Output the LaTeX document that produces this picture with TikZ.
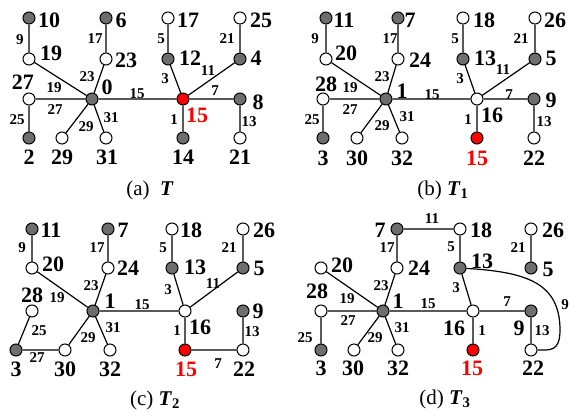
\documentclass[tikz,border=0pt]{standalone}
\usepackage{fontspec}
\setmainfont{Liberation Serif}
\usepackage{tikz}
\definecolor{vgray}{RGB}{110,110,110}
\definecolor{rootred}{RGB}{255,0,0}
\tikzset{
  vtx/.style={circle, draw, line width=1pt, inner sep=0pt, minimum size=12pt, fill=white},
  gvtx/.style={vtx, fill=vgray},
  rvtx/.style={vtx, fill=rootred},
  numlab/.style={font=\fontsize{22}{22}\selectfont\bfseries, inner sep=0pt},
  wtlab/.style={font=\fontsize{15}{15}\selectfont\bfseries, inner sep=0pt},
  edge/.style={line width=1.2pt},
  captxt/.style={font=\fontsize{21}{21}\selectfont, inner sep=0pt},
}
% vertex with its number: [label colour]{style}{name}{position}{number}{number position}
\newcommand{\tnode}[6][black]{%
  \node[#2] (#3) at (#4) {};
  \node[numlab, text=#1] (#3l) at (#6) {#5};
}
% edge weight: {name}{position}{weight}
\newcommand{\wt}[3]{\node[wtlab] (#1) at (#2) {#3};}

\begin{document}
\begin{tikzpicture}[x=1pt, y=-1pt]
  \useasboundingbox (0,0) rectangle (571,418);
  % ---- (a) tree T
  \tnode{gvtx}{a10}{29,18}{10}{49,20}
  \tnode{vtx}{a19}{29,59}{19}{51,53}
  \tnode{gvtx}{a6}{106,18}{6}{121,20}
  \tnode{vtx}{a23}{106,59}{23}{126,60}
  \tnode{vtx}{a27}{29,99}{27}{23,82}
  \tnode{gvtx}{a0}{92,99}{0}{107,87}
  \tnode{gvtx}{a2}{29,138}{2}{29,157}
  \tnode{vtx}{a29}{62,138}{29}{62,157}
  \tnode{vtx}{a31}{106,138}{31}{107,157}
  \tnode{vtx}{a17}{168,18}{17}{188,20}
  \tnode{gvtx}{a12}{168,59}{12}{190,58}
  \tnode{vtx}{a25}{240,18}{25}{261,20}
  \tnode{gvtx}{a4}{240,59}{4}{256,58}
  \tnode[rootred]{rvtx}{a15}{183,99}{15}{197,115}
  \tnode{gvtx}{a8}{240,99}{8}{258,102}
  \tnode{gvtx}{a14}{183,138}{14}{183,157}
  \tnode{vtx}{a21}{240,138}{21}{240,157}
  \draw[edge] (a10) -- (a19) (a6) -- (a23) (a19) -- (a0) (a23) -- (a0)
    (a27) -- (a0) (a27) -- (a2) (a0) -- (a29) (a0) -- (a31) (a0) -- (a15)
    (a17) -- (a12) (a12) -- (a15) (a15) -- (a4) (a25) -- (a4)
    (a15) -- (a8) (a8) -- (a21) (a15) -- (a14);
  \wt{wa9}{20,40}{9}    \wt{wa17}{95,39}{17}  \wt{wa19}{54,88}{19}
  \wt{wa23}{87,77}{23}  \wt{wa27}{55,110}{27} \wt{wa25}{17,120}{25}
  \wt{wa29}{86,127}{29} \wt{wa31}{111,118}{31} \wt{wa15}{137,94}{15}
  \wt{wa5}{161,39}{5}   \wt{wa3}{165,79}{3}   \wt{wa11}{208,71}{11}
  \wt{wa21}{227,39}{21} \wt{wa7}{215,91}{7}   \wt{wa13}{249,122}{13}
  \wt{wa1}{174,120}{1}
  \node[captxt] (capa) at (150,190) {(a)~~\textbf{\textit{T}}};
  % ---- (b) tree T1
  \tnode{gvtx}{b11}{326,18}{11}{344,20}
  \tnode{vtx}{b20}{326,59}{20}{346,53}
  \tnode{gvtx}{b7}{398,18}{7}{410,20}
  \tnode{vtx}{b24}{398,59}{24}{420,60}
  \tnode{vtx}{b28}{323,99}{28}{326,84}
  \tnode{gvtx}{b1}{386,99}{1}{402,91}
  \tnode{gvtx}{b3}{323,138}{3}{323,158}
  \tnode{vtx}{b30}{357,138}{30}{357,158}
  \tnode{vtx}{b32}{402,138}{32}{402,158}
  \tnode{vtx}{b18}{463,18}{18}{484,20}
  \tnode{gvtx}{b13}{463,59}{13}{485,58}
  \tnode{vtx}{b26}{535,18}{26}{555,20}
  \tnode{gvtx}{b5}{535,59}{5}{551,58}
  \tnode{vtx}{b16}{477,99}{16}{492,115}
  \tnode{gvtx}{b9}{534,99}{9}{551,100}
  \tnode[rootred]{rvtx}{b15}{477,138}{15}{477,158}
  \tnode{vtx}{b22}{534,138}{22}{534,158}
  \draw[edge] (b11) -- (b20) (b7) -- (b24) (b20) -- (b1) (b24) -- (b1)
    (b28) -- (b1) (b28) -- (b3) (b1) -- (b30) (b1) -- (b32) (b1) -- (b16)
    (b18) -- (b13) (b13) -- (b16) (b16) -- (b5) (b26) -- (b5)
    (b16) -- (b9) (b9) -- (b22) (b16) -- (b15);
  \wt{wb9}{315,39}{9}    \wt{wb17}{390,39}{17}  \wt{wb19}{350,88}{19}
  \wt{wb23}{382,77}{23}  \wt{wb27}{350,110}{27} \wt{wb25}{312,120}{25}
  \wt{wb29}{382,126}{29} \wt{wb31}{407,117}{31} \wt{wb15}{432,95}{15}
  \wt{wb5}{455,39}{5}    \wt{wb3}{460,79}{3}    \wt{wb11}{503,70}{11}
  \wt{wb21}{521,39}{21}  \wt{wb7}{509,95}{7}    \wt{wb13}{544,122}{13}
  \wt{wb1}{468,120}{1}
  \node[captxt] (capb) at (443,190) {(b) \textbf{\textit{T}}\textsubscript{\textbf{1}}};
  % ---- (c) tree T2
  \tnode{gvtx}{c11}{32,229}{11}{51,230}
  \tnode{vtx}{c20}{32,268}{20}{53,264}
  \tnode{gvtx}{c7}{108,229}{7}{123,230}
  \tnode{vtx}{c24}{108,268}{24}{128,268}
  \tnode{vtx}{c28}{32,311}{28}{32,295}
  \tnode{gvtx}{c1}{93,311}{1}{110,301}
  \tnode{gvtx}{c3}{16,350}{3}{16,369}
  \tnode{vtx}{c30}{65,350}{30}{65,369}
  \tnode{vtx}{c32}{110,350}{32}{110,369}
  \tnode{vtx}{c18}{172,229}{18}{191,230}
  \tnode{gvtx}{c13}{172,268}{13}{195,267}
  \tnode{vtx}{c26}{243,229}{26}{264,230}
  \tnode{gvtx}{c5}{243,268}{5}{259,268}
  \tnode{vtx}{c16}{185,311}{16}{200,327}
  \tnode{gvtx}{c9}{243,311}{9}{258,311}
  \tnode[rootred]{rvtx}{c15}{185,350}{15}{186,369}
  \tnode{vtx}{c22}{243,350}{22}{244,369}
  \draw[edge] (c11) -- (c20) (c7) -- (c24) (c20) -- (c1) (c24) -- (c1)
    (c28) -- (c3) (c3) -- (c30) (c30) -- (c1) (c1) -- (c32) (c1) -- (c16)
    (c18) -- (c13) (c13) -- (c16) (c16) -- (c5) (c26) -- (c5)
    (c16) -- (c15) (c15) -- (c22) (c9) -- (c22);
  \wt{wc9}{22,248}{9}    \wt{wc17}{97,248}{17}  \wt{wc19}{57,298}{19}
  \wt{wc23}{91,286}{23}  \wt{wc25}{39,331}{25}  \wt{wc27}{37,358}{27}
  \wt{wc29}{88,338}{29}  \wt{wc31}{113,328}{31} \wt{wc15}{142,305}{15}
  \wt{wc5}{163,248}{5}   \wt{wc3}{168,290}{3}   \wt{wc11}{213,284}{11}
  \wt{wc21}{229,248}{21} \wt{wc1}{177,331}{1}   \wt{wc13}{252,332}{13}
  \wt{wc7}{218,364}{7}
  \node[captxt] (capc) at (155,400) {(c) \textbf{\textit{T}}\textsubscript{\textbf{2}}};
  % ---- (d) tree T3
  \tnode{gvtx}{d7}{397,229}{7}{380,230}
  \tnode{vtx}{d18}{460,229}{18}{481,230}
  \tnode{vtx}{d26}{531,229}{26}{553,230}
  \tnode{gvtx}{d5}{531,268}{5}{548,269}
  \tnode{vtx}{d24}{397,268}{24}{419,268}
  \tnode{gvtx}{d13}{460,268}{13}{482,261}
  \tnode{vtx}{d20}{321,268}{20}{342,265}
  \tnode{vtx}{d28}{321,311}{28}{317,291}
  \tnode{gvtx}{d1}{383,311}{1}{398,301}
  \tnode{vtx}{d16}{473,311}{16}{454,328}
  \tnode{gvtx}{d9}{531,311}{9}{519,328}
  \tnode{gvtx}{d3}{321,350}{3}{321,368}
  \tnode{vtx}{d30}{354,350}{30}{353,368}
  \tnode{vtx}{d32}{398,350}{32}{398,368}
  \tnode[rootred]{rvtx}{d15}{473,350}{15}{472,368}
  \tnode{vtx}{d22}{531,350}{22}{533,368}
  \draw[edge] (d7) -- (d18) (d7) -- (d24) (d18) -- (d13) (d26) -- (d5)
    (d24) -- (d1) (d20) -- (d1) (d28) -- (d1) (d28) -- (d3) (d1) -- (d30)
    (d1) -- (d32) (d1) -- (d16) (d13) -- (d16) (d16) -- (d9)
    (d16) -- (d15) (d9) -- (d22);
  % long edge 13--22 bent round the right side
  \coordinate (dbend) at (560,330);
  \draw[edge] (d13) .. controls (525,272) and (560,282) .. (dbend)
    .. controls (560,352) and (550,350) .. (d22);
  \wt{wd11}{432,219}{11} \wt{wd17}{387,248}{17} \wt{wd5}{451,247}{5}
  \wt{wd21}{518,248}{21} \wt{wd23}{381,286}{23} \wt{wd19}{347,299}{19}
  \wt{wd27}{348,321}{27} \wt{wd25}{305,338}{25} \wt{wd29}{375,338}{29}
  \wt{wd31}{402,328}{31} \wt{wd15}{428,304}{15} \wt{wd3}{456,288}{3}
  \wt{wd7}{507,302}{7}   \wt{wd1}{482,331}{1}   \wt{wd13}{542,331}{13}
  \wt{wd9}{565,305}{9}
  \node[captxt] (capd) at (445,399) {(d) \textbf{\textit{T}}\textsubscript{\textbf{3}}};
\end{tikzpicture}
\end{document}
